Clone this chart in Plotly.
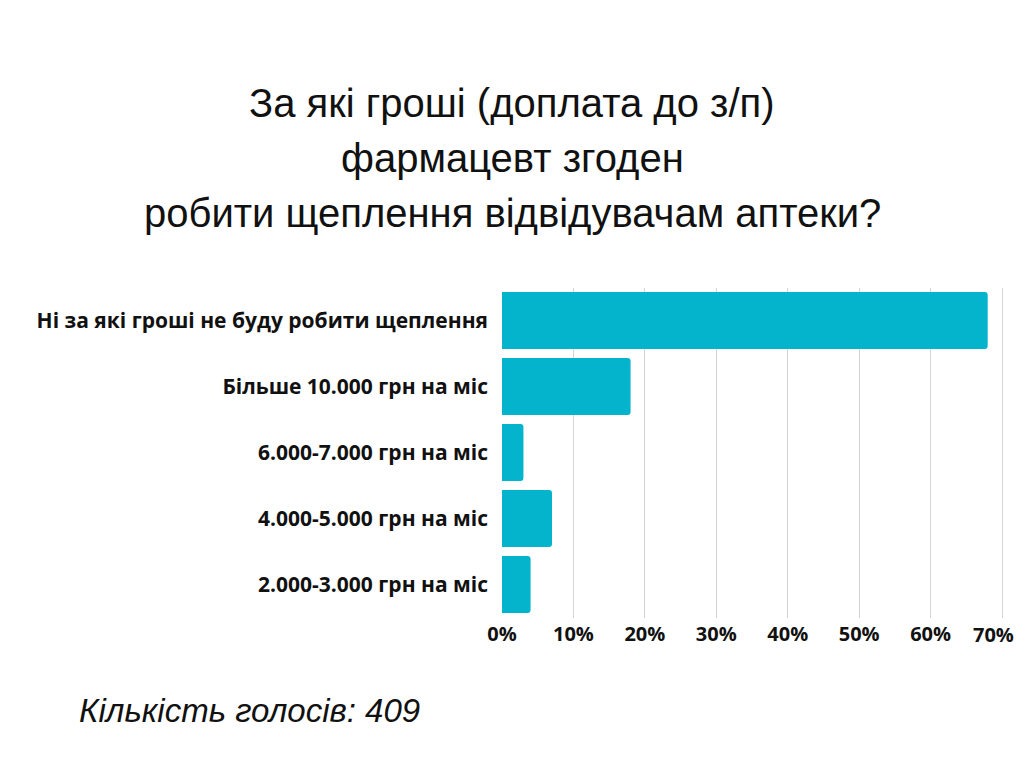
import plotly.graph_objects as go

# answer options (top to bottom as in the chart)
categories = [
    "Ні за які гроші не буду робити щеплення",
    "Більше 10.000 грн на міс",
    "6.000-7.000 грн на міс",
    "4.000-5.000 грн на міс",
    "2.000-3.000 грн на міс",
]
shares = [68, 18, 3, 7, 4]
x_ticks = [0, 10, 20, 30, 40, 50, 60, 70]
x_tick_labels = ["0%", "10%", "20%", "30%", "40%", "50%", "60%", "70%"]

title_lines = [
    "За які гроші (доплата до з/п)",
    "фармацевт згоден",
    "робити щеплення відвідувачам аптеки?",
]
footer = "Кількість голосів: 409"

# the page body adds an 8px margin; positions below are given in window
# pixels and shifted back by that amount
OFF = 8
W, H = 1024 - OFF, 768 - 2 * OFF


def px_x(v):
    return (v - OFF) / W


def px_y(v):
    return 1 - (v - OFF) / H


tick_font = dict(family="Open Sans", size=20, color="#111111", weight="bold")

# the last label touches the window edge, so it is drawn as an annotation
# on the axis value and nudged in a little instead of as a tick label
tick_text = x_tick_labels[:-1] + [""]

# a bit of room past 70% so its grid line is kept
x_max = 70.6
x_left, x_70 = 502, 1002
x_right = x_left + (x_70 - x_left) * x_max / 70

fig = go.Figure(go.Bar(
    x=shares,
    y=categories,
    orientation="h",
    width=0.86,
    marker=dict(color="#03B4CC", cornerradius=3, line=dict(width=0)),
    hoverinfo="x+y",
))

fig.update_layout(
    width=W, height=H,
    margin=dict(l=0, r=0, t=0, b=0),
    paper_bgcolor="white",
    plot_bgcolor="white",
    showlegend=False,
    font=dict(family="Open Sans", color="#111111"),
    xaxis=dict(
        domain=[px_x(x_left), px_x(x_right)],
        range=[0, x_max],
        tickvals=x_ticks,
        ticktext=tick_text,
        automargin=False,
        showgrid=True,
        gridcolor="#d4d4d4",
        gridwidth=1,
        zeroline=False,
        showline=False,
        ticks="",
        ticklabelstandoff=2,
        tickfont=tick_font,
    ),
    yaxis=dict(
        domain=[px_y(617.5), px_y(287.5)],
        categoryorder="array",
        categoryarray=categories[::-1],
        automargin=False,
        showgrid=False,
        zeroline=False,
        showline=False,
        ticks="",
        ticklabelstandoff=13,
        tickfont=dict(family="Open Sans", size=21, color="#111111", weight="bold"),
    ),
)

fig.add_annotation(
    text=x_tick_labels[-1], xref="x", yref="paper",
    x=x_ticks[-1], y=px_y(634), xshift=-9,
    xanchor="center", yanchor="middle", showarrow=False,
    font=tick_font,
)

# three-line title, each line placed separately to keep the wide spacing
for i, line in enumerate(title_lines):
    fig.add_annotation(
        text=line, xref="paper", yref="paper",
        x=px_x(512), y=px_y(103 + 55 * i),
        xanchor="center", yanchor="middle", showarrow=False,
        font=dict(family="Liberation Sans", size=40, color="#111111"),
    )

fig.add_annotation(
    text="<i>" + footer + "</i>", xref="paper", yref="paper",
    x=px_x(77), y=px_y(710),
    xanchor="left", yanchor="middle", showarrow=False,
    font=dict(family="Liberation Sans", size=33, color="#111111"),
)

fig.write_html("out.html")
